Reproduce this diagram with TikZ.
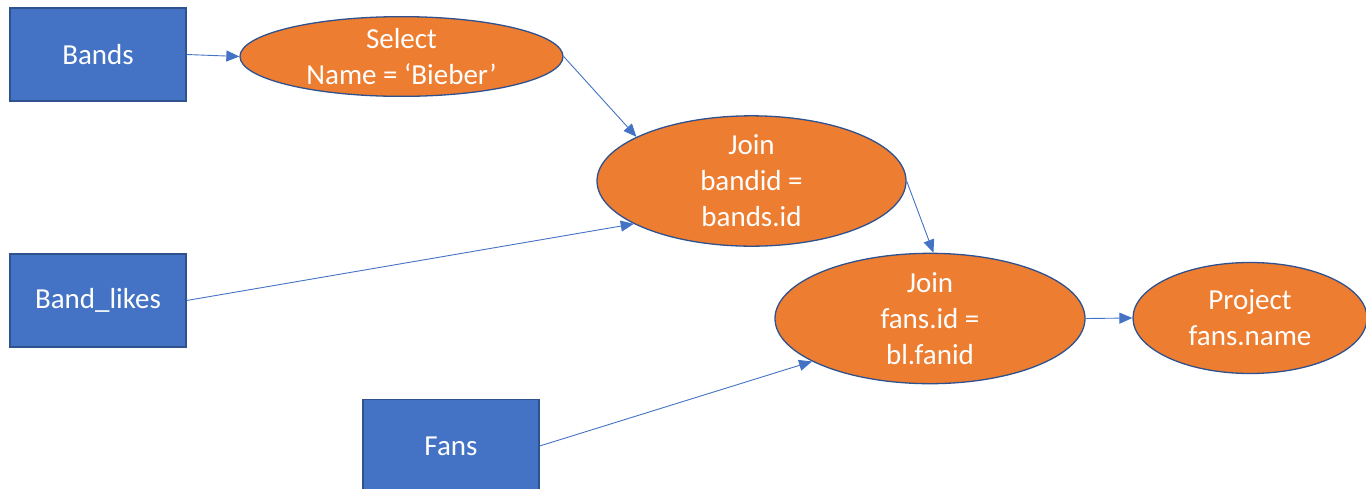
\documentclass[tikz,border=0pt]{standalone}
\usepackage{fontspec}
\setmainfont{Carlito}
\usetikzlibrary{shapes.geometric,arrows.meta}
\definecolor{boxblue}{HTML}{4472C4}
\definecolor{edgeblue}{HTML}{2F528F}
\definecolor{opfill}{HTML}{ED7D31}
\tikzset{
  table/.style={rectangle, draw=edgeblue, line width=1.3pt, fill=boxblue,
    minimum width=176pt, minimum height=93pt, inner sep=0pt, text=white,
    font=\fontsize{29}{36}\selectfont},
  op/.style={ellipse, draw=edgeblue, line width=1.3pt, fill=opfill,
    inner sep=0pt, text=white, align=center,
    font=\fontsize{29}{36}\selectfont},
  flow/.style={draw=boxblue, line width=0.9pt,
    -{Triangle[length=13pt,width=11pt]}}
}
\begin{document}
\begin{tikzpicture}[x=1pt,y=-1pt]
  \useasboundingbox (0,0) rectangle (1366,488);
  \clip (0,0) rectangle (1366,488);

  % input tables
  \node[table] (bands) at (98,54.5) {Bands};
  \node[table] (likes) at (98,300.5) {Band\_likes};
  \node[table] (fans)  at (451,446) {Fans};

  % relational operators
  \node[op, minimum width=323pt, minimum height=77pt]  (select) at (401.5,56.5) {Select\\Name = ‘Bieber’};
  \node[op, minimum width=309pt, minimum height=112pt] (join1)  at (751.5,181) {Join\\bandid =\\bands.id};
  \node[op, minimum width=310pt, minimum height=113pt] (join2)  at (930,318.5) {Join\\fans.id =\\bl.fanid};
  \node[op, minimum width=234pt, minimum height=111pt] (proj)   at (1250,318) {Project\\fans.name};

  % data flow
  \draw[flow] (bands.east) -- (select.west);
  \draw[flow] (select.east) -- (join1.159.8);
  \draw[flow] (likes.east) -- (join1.200.6);
  \draw[flow] (join1.east) -- (join2.87);
  \draw[flow] (fans.east) -- (join2.200.9);
  \draw[flow] (join2.east) -- (proj.west);
\end{tikzpicture}
\end{document}
